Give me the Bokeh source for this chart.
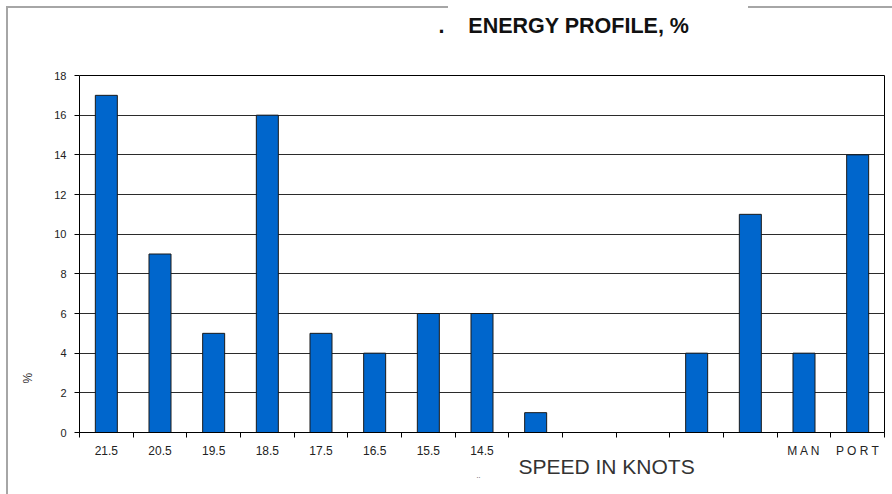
from bokeh.plotting import figure
from bokeh.models import Range1d, FixedTicker, Title, LinearAxis
from bokeh.embed import file_html
from bokeh.resources import INLINE

# Speed bands (knots) and the share of energy spent in each band
speeds = ["21.5", "20.5", "19.5", "18.5", "17.5", "16.5", "15.5", "14.5",
          "", "", "", "", "", "M A N", "P O R T"]
shares = [17, 9, 5, 16, 5, 4, 6, 6, 1, 0, 0, 4, 11, 4, 14]
y_ticks = [0, 2, 4, 6, 8, 10, 12, 14, 16, 18]

FONT = "Liberation Sans"
NBSP = "\u00a0"
W, H = 892, 494
LEFT, RIGHT, TOP, BOTTOM = 79, 8, 75, 62
n = len(speeds)
centers = [i + 0.5 for i in range(n)]

p = figure(width=W, height=H, output_backend="svg", toolbar_location=None,
           x_range=Range1d(0, n), y_range=Range1d(0, max(y_ticks)),
           min_border_left=LEFT, min_border_right=RIGHT,
           min_border_top=TOP, min_border_bottom=BOTTOM,
           title_location=None)
p.background_fill_color = "white"
p.border_fill_alpha = 0
p.outline_line_color = "black"
p.outline_line_width = 1

# thin grey page frame behind the canvas: left edge and a broken top edge
grey = "linear-gradient(#a6a6a6, #a6a6a6)"
p.styles = {
    "background-color": "white",
    "background-image": ", ".join([grey] * 3),
    "background-position": "6px 6px, 6px 6px, 748px 6px",
    "background-size": f"2px {H}px, 442px 2px, {W - 748}px 2px",
    "background-repeat": "no-repeat",
}

p.vbar(x=centers, top=shares, width=0.41, bottom=0,
       fill_color="#0066CC", line_color="#1a1a1a", line_width=1)

# horizontal rules
p.xgrid.visible = False
p.ygrid.ticker = FixedTicker(ticks=y_ticks)
p.ygrid.grid_line_color = "#2b2b2b"
p.ygrid.grid_line_width = 1

# y axis
ya = p.yaxis[0]
ya.ticker = FixedTicker(ticks=y_ticks, minor_ticks=[])
ya.axis_line_color = "black"
ya.major_tick_line_color = "black"
ya.major_tick_out = 5
ya.major_tick_in = 0
ya.minor_tick_line_color = None
ya.major_label_standoff = 8
ya.major_label_text_font = FONT
ya.major_label_text_font_size = "11px"
ya.major_label_text_color = "#222222"

# x axis: labels at bar centres, tick marks between bars
labelled = [(c, s) for c, s in zip(centers, speeds) if s]
xa = p.xaxis[0]
xa.ticker = FixedTicker(ticks=[c for c, _ in labelled],
                        minor_ticks=list(range(n + 1)))
xa.major_label_overrides = {c: s for c, s in labelled}
xa.axis_line_color = "black"
xa.major_tick_line_color = None
xa.major_tick_out = 0
xa.major_tick_in = 0
xa.minor_tick_line_color = "black"
xa.minor_tick_out = 5
xa.minor_tick_in = 0
xa.major_label_standoff = 6
xa.major_label_text_font = FONT
xa.major_label_text_font_size = "12px"
xa.major_label_text_color = "#222222"

# blank band between the frame and the chart title: a single white tick
# at the frame's left edge, with no label
spacer = LinearAxis(ticker=FixedTicker(ticks=[0], minor_ticks=[]),
                    axis_line_color=None, major_tick_line_color="white",
                    minor_tick_line_color=None, major_tick_out=38,
                    major_tick_in=0, minor_tick_out=0, minor_tick_in=0,
                    major_label_standoff=0, major_label_overrides={0: ""},
                    major_label_text_font_size="1px")
p.add_layout(spacer, "above")

# chart title
p.add_layout(Title(text="." + NBSP * 4 + "ENERGY PROFILE, %", align="left",
                   offset=438 - LEFT, standoff=0, text_font=FONT,
                   text_font_size="21.5px", text_font_style="bold",
                   text_color="#111111"), "above")

# axis captions
p.add_layout(Title(text="SPEED IN KNOTS", align="left", offset=518 - LEFT,
                   standoff=-16, text_font=FONT, text_font_size="21px",
                   text_font_style="normal", text_color="#333333"), "below")
p.add_layout(Title(text="..", align="left", offset=476 - LEFT, standoff=2,
                   text_font=FONT, text_font_size="7px",
                   text_font_style="normal", text_color="#333333"), "below")
p.add_layout(Title(text="%", align="left", offset=49, standoff=34,
                   text_font=FONT, text_font_size="12px",
                   text_font_style="normal", text_color="#333333"), "left")

open("out.html", "w").write(file_html(p, INLINE))
